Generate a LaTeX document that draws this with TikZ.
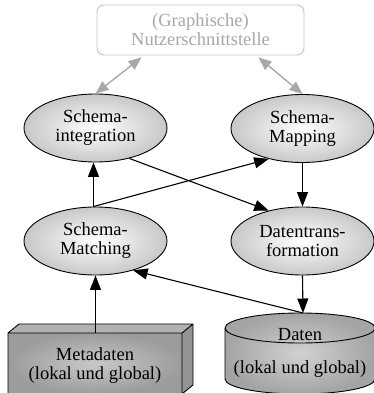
\documentclass[tikz,border=0pt]{standalone}
\usepackage{fontspec}
\setmainfont{Liberation Serif}
\usetikzlibrary{shapes.geometric,arrows.meta}
\definecolor{uigray}{HTML}{A8A8A8}
\definecolor{uiborder}{HTML}{C4C4C4}
\definecolor{proczone}{HTML}{C8C8C8}
\definecolor{storegray}{HTML}{A4A4A4}
\tikzset{
  every node/.style={font=\fontsize{18.5}{19}\selectfont},
  proc/.style={ellipse, draw=black, line width=0.9pt, minimum width=143pt,
    minimum height=68pt, inner sep=0pt, align=center,
    inner color=white, outer color=proczone},
  flow/.style={draw=black, line width=1.1pt, -{Triangle[length=14.5pt,width=11pt]}},
  uiflow/.style={draw=uigray, line width=1.4pt,
    {Triangle[length=13pt,width=10.5pt]}-{Triangle[length=13pt,width=10.5pt]}},
}
\begin{document}
\begin{tikzpicture}[x=1pt,y=-1pt]
\useasboundingbox (0,0) rectangle (374,393);

% user interface
\node[draw=uiborder, line width=0.9pt, rounded corners=7pt, fill=white,
      text=uigray, align=center, minimum width=207pt, minimum height=50pt,
      inner sep=0pt] (ui) at (200.5,30) {(Graphische)\\Nutzerschnittstelle};

% processing steps
\node[proc] (integ) at (95.5,128) {Schema-\\integration};
\node[proc] (mapping) at (302.5,128.5) {Schema-\\Mapping};
\node[proc] (matching) at (95.5,241) {Schema-\\Matching};
\node[proc] (trans) at (302.5,241) {Datentrans-\\formation};

% metadata store: box with top and side faces
\coordinate (mA) at (8,333);
\coordinate (mB) at (182,333);
\coordinate (mC) at (182,394);
\coordinate (mD) at (8,394);
\fill[storegray!85] (mA) -- ++(11,-9) -- ([shift={(11,-9)}]mB) -- (mB) -- cycle;
\fill[storegray!90!black] (mB) -- ++(11,-9) -- ([shift={(11,-9)}]mC) -- (mC) -- cycle;
\shade[inner color=storegray!60, outer color=storegray!95!black] (mA) rectangle (mC);
\draw[line width=0.9pt, line join=round]
  (mA) -- ++(11,-9) -- ([shift={(11,-9)}]mB) -- (mB)
  (mB) -- ++(11,-9) -- ([shift={(11,-9)}]mC) -- (mC)
  (mA) rectangle (mC);
\node[inner sep=0pt, minimum width=174pt, minimum height=61pt] (meta) at (95,363.5) {};
\node[align=center, inner sep=0pt] at (95,366) {Metadaten\\(lokal und global)};

% data store: cylinder (y grows downwards, so angle 90 is the lower rim)
\coordinate (dTop) at (300,328);
\shade[inner color=storegray!50, outer color=storegray]
  (225,328) -- (225,379) arc[start angle=180, end angle=0, x radius=75, y radius=15]
  -- (375,328) arc[start angle=0, end angle=-180, x radius=75, y radius=15] -- cycle;
\draw[line width=0.9pt]
  (dTop) ellipse[x radius=75, y radius=15]
  (225,328) -- (225,379) arc[start angle=180, end angle=0, x radius=75, y radius=15]
  -- (375,328);
\coordinate (daten) at (303,313);
\node[inner sep=0pt] (datenA) at (300,335) {Daten};
\node[inner sep=0pt] (datenB) at (300,369.5) {(lokal und global)};

% interface links
\draw[uiflow] (ui.south west) ++(45,2) coordinate (uiL) -- (integ.north);
\draw[uiflow] (ui.south east) ++(-46,2) coordinate (uiR) -- (mapping.north);

% data flow
\draw[flow] ([xshift=-2pt]matching.north) -- ([xshift=-2pt]integ.south);
\draw[flow] ([xshift=-2pt]matching.north) -- (mapping.-138);
\draw[flow] (integ.-42) -- (trans.138);
\draw[flow] (mapping.south) -- (trans.north);
\draw[flow] (trans.south) -- (daten);
\draw[flow] (daten) -- (matching.-38);
\draw[flow] (meta.north -| matching.south) -- (matching.south);
\end{tikzpicture}
\end{document}
